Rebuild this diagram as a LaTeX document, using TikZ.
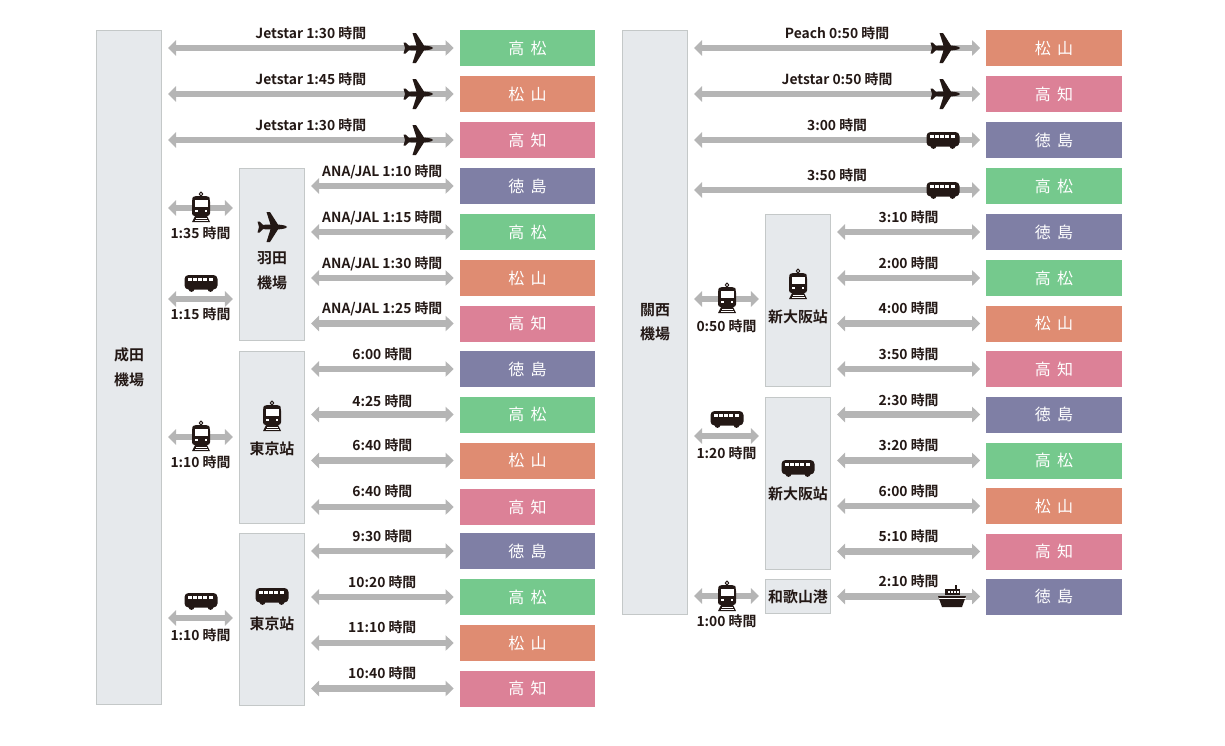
\documentclass[tikz,border=0pt]{standalone}
\usepackage{fontspec}
\setmainfont{Noto Sans CJK JP}[BoldFont={Noto Sans CJK JP Bold}]
\usetikzlibrary{arrows.meta,calc}
\definecolor{boxgray}{HTML}{E6E9EC}
\definecolor{edgegray}{HTML}{C4C8C8}
\definecolor{routegray}{HTML}{B5B5B5}
\definecolor{inkblack}{HTML}{231815}
\definecolor{greenbox}{HTML}{75C98D}
\definecolor{orangebox}{HTML}{DF8C72}
\definecolor{pinkbox}{HTML}{DC8197}
\definecolor{purplebox}{HTML}{7F7FA5}
\tikzset{
  hub/.style={draw=edgegray,fill=boxgray,line width=0.75pt,minimum width=48.8pt,inner sep=0pt,
    font=\bfseries\fontsize{11.2}{18.5}\selectfont,text=inkblack,align=center},
  place/.style={minimum width=101.5pt,minimum height=27pt,inner sep=0pt,text=white,
    font=\fontsize{12}{14}\selectfont},
  route/.style={draw=routegray,line width=5.2pt,
    {Triangle[length=6pt,width=11.5pt]}-{Triangle[length=6pt,width=11.5pt]},
    shorten <=4.5pt,shorten >=4.5pt},
  timetext/.style={font=\bfseries\fontsize{10.4}{12}\selectfont,text=inkblack,inner sep=0pt,
    text height=8pt,text depth=2pt},
  hubtext/.style={font=\bfseries\fontsize{11.2}{18.5}\selectfont,text=inkblack,inner sep=0pt,align=center},
  planeicon/.pic={\fill[inkblack] (15,0) .. controls (14,-1.6) and (10,-2.2) .. (6,-2.4)
    -- (-2,-15) -- (-5.5,-15) -- (-1.5,-2.4) -- (-9,-2.2) -- (-12.5,-5.5) -- (-14.5,-5.5) -- (-13,0)
    -- (-14.5,5.5) -- (-12.5,5.5) -- (-9,2.2) -- (-1.5,2.4) -- (-5.5,15) -- (-2,15) -- (6,2.4)
    .. controls (10,2.2) and (14,1.6) .. (15,0) -- cycle;},
  trainicon/.pic={
    \draw[inkblack,line width=0.7pt] (0,-15) -- (1.8,-13) -- (0,-11) -- (-1.8,-13) -- cycle;
    \fill[inkblack,rounded corners=2pt] (-7.5,-11) -- (7.5,-11) -- (9,-8) -- (9,9) -- (-9,9) -- (-9,-8) -- cycle;
    \fill[white] (-6.5,-7.5) rectangle (6.5,0);
    \fill[white] (-6,3) rectangle (-3.5,5);
    \fill[white] (3.5,3) rectangle (6,5);
    \fill[inkblack] (-6,9) -- (6,9) -- (9,15) -- (-9,15) -- cycle;
    \fill[white] (-5.5,10.6) rectangle (5.5,11.6);
    \fill[white] (-6.5,12.8) rectangle (6.5,13.6);},
  busicon/.pic={
    \fill[inkblack,rounded corners=3pt] (-16.5,-8) rectangle (16.5,6.5);
    \fill[inkblack] (-9.5,6) circle (2.9);
    \fill[inkblack] (9.5,6) circle (2.9);
    \foreach \wx in {-13.5,-8.2,-2.9,2.4,7.7}
      \fill[white] (\wx,-5.5) rectangle ++(4,3.2);},
  shipicon/.pic={
    \fill[inkblack] (3,-11) rectangle (5,-7);
    \fill[inkblack] (-7,-7) rectangle (8,-1);
    \fill[inkblack] (-14,0) -- (14,0) -- (10,11) -- (-10,11) -- cycle;
    \foreach \wx in {-4,-1,2,5}
      \fill[white] (\wx,-5) rectangle ++(1.6,1.6);
    \fill[white] (-13.5,2.2) rectangle (13.5,2.9);}
}
\begin{document}
\begin{tikzpicture}[x=0.75pt,y=-0.75pt]
\useasboundingbox (0,0) rectangle (1225,746);
% terminals and hubs
\node[hub,minimum height=506pt] (narita) at (129,367.5) {成田\\機場};
\node[hub,minimum height=129pt] (haneda) at (272,254) {};
\node[hub,minimum height=129pt] (tokyorail) at (272,437) {};
\node[hub,minimum height=129pt] (tokyobus) at (272,619) {};
\node[hub,minimum height=438pt] (kansai) at (655,322) {關西\\機場};
\node[hub,minimum height=129pt] (osakarail) at (798,300) {};
\node[hub,minimum height=129pt] (osakabus) at (798,483) {};
\node[hub,minimum height=26pt] (wakayama) at (798,596.5) {和歌山港};
\node[hubtext] (hanedatext) at (272,270.5) {羽田\\機場};
\node[hubtext] (tokyoraillabel) at (272,449) {東京站};
\node[hubtext] (tokyobuslabel) at (272,624) {東京站};
\node[hubtext] (osakaraillabel) at (798,317) {新大阪站};
\node[hubtext] (osakabuslabel) at (798,494) {新大阪站};
% destinations
\foreach \tag/\rowy/\shade/\first/\second in {
  na/48/greenbox/高/松,nb/94/orangebox/松/山,nc/140/pinkbox/高/知,
  hd/186/purplebox/徳/島,he/232/greenbox/高/松,hf/278/orangebox/松/山,hg/323.5/pinkbox/高/知,
  td/369/purplebox/徳/島,te/414.5/greenbox/高/松,tf/460.5/orangebox/松/山,tg/507/pinkbox/高/知,
  bd/551/purplebox/徳/島,be/597/greenbox/高/松,bf/643/orangebox/松/山,bg/688.5/pinkbox/高/知}
  \node[place,fill=\shade] (\tag) at (527.5,\rowy) {\raisebox{-0.6pt}{\first\hspace{4.75pt}\second}};
\foreach \tag/\rowy/\shade/\first/\second in {
  ka/48/orangebox/松/山,kb/94/pinkbox/高/知,kc/140/purplebox/徳/島,kd/186/greenbox/高/松,
  rd/232/purplebox/徳/島,re/278/greenbox/高/松,rf/323.5/orangebox/松/山,rg/369/pinkbox/高/知,
  sd/414.5/purplebox/徳/島,se/460.5/greenbox/高/松,sf/506/orangebox/松/山,sg/551.5/pinkbox/高/知,
  wd/596.5/purplebox/徳/島}
  \node[place,fill=\shade] (\tag) at (1054,\rowy) {\raisebox{-0.6pt}{\first\hspace{4.75pt}\second}};
\coordinate (kdline) at (986,190);
% long routes with the time above
\foreach \from/\to/\lift/\hours in {
  narita/na/10.5/Jetstar 1:30 時間,narita/nb/10.5/Jetstar 1:45 時間,narita/nc/10.5/Jetstar 1:30 時間,
  haneda/hd/10.5/ANA{/}JAL 1:10 時間,haneda/he/10.5/ANA{/}JAL 1:15 時間,
  haneda/hf/10.5/ANA{/}JAL 1:30 時間,haneda/hg/10.5/ANA{/}JAL 1:25 時間,
  tokyorail/td/10/6:00 時間,tokyorail/te/9.3/4:25 時間,tokyorail/tf/10.3/6:40 時間,tokyorail/tg/11/6:40 時間,
  tokyobus/bd/10.3/9:30 時間,tokyobus/be/10.3/10:20 時間,tokyobus/bf/11/11:10 時間,tokyobus/bg/10.3/10:40 時間,
  kansai/ka/10.5/Peach 0:50 時間,kansai/kb/10.5/Jetstar 0:50 時間,kansai/kc/10.5/3:00 時間,kansai/kdline/9.8/3:50 時間,
  osakarail/rd/10.3/3:10 時間,osakarail/re/10.3/2:00 時間,osakarail/rf/10.3/4:00 時間,osakarail/rg/10.3/3:50 時間,
  osakabus/sd/9.5/2:30 時間,osakabus/se/10.3/3:20 時間,osakabus/sf/10.3/6:00 時間,osakabus/sg/10.3/5:10 時間,
  wakayama/wd/10.3/2:10 時間}
  \draw[route] (\from.east |- \to) -- node[timetext,midway,yshift=\lift pt] {\hours} (\to.west |- \to);
% short routes with the time below
\foreach \from/\to/\rowy/\drop/\hours in {
  narita/haneda/208/-19.8/1:35 時間,narita/haneda/299/-12.4/1:15 時間,
  narita/tokyorail/437/-19.8/1:10 時間,narita/tokyobus/618/-13.8/1:10 時間,
  kansai/osakarail/299/-21.7/0:50 時間,kansai/osakabus/436/-13.8/1:20 時間,
  kansai/wakayama/596/-20.2/1:00 時間}{
  \coordinate (linkpoint) at (0,\rowy);
  \draw[route] (\from.east |- linkpoint) -- node[timetext,midway,yshift=\drop pt] {\hours} (\to.west |- linkpoint);
}
% icons
\foreach \px/\py in {418/48,418/94,418/140,272/227,945/48,945/94}
  \pic at (\px,\py) {planeicon};
\foreach \px/\py in {201/207,272/416,201/436,727/298,798/284,727/596}
  \pic at (\px,\py) {trainicon};
\foreach \px/\py in {201/283,201/601,272/596,727/419,798/468,943/140,943/190}
  \pic at (\px,\py) {busicon};
\pic at (952,596) {shipicon};
\end{tikzpicture}
\end{document}
